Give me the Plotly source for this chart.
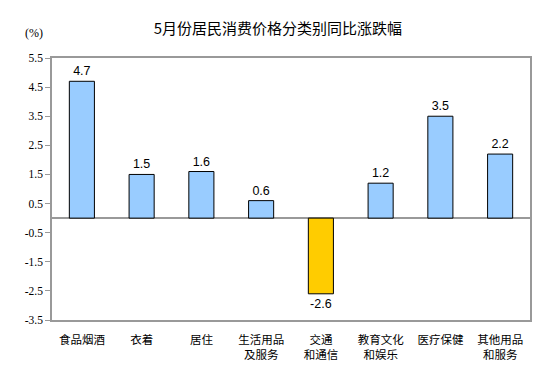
import plotly.graph_objects as go

categories = ["食品烟酒", "衣着", "居住", "生活用品<br>及服务", "交通<br>和通信", "教育文化<br>和娱乐", "医疗保健", "其他用品<br>和服务"]
values = [4.7, 1.5, 1.6, 0.6, -2.6, 1.2, 3.5, 2.2]
tick_vals = [-3.5, -2.5, -1.5, -0.5, 0.5, 1.5, 2.5, 3.5, 4.5, 5.5]
tick_text = ["-3.5", "-2.5", "-1.5", "-0.5", "0.5", "1.5", "2.5", "3.5", "4.5", "5.5"]

colors = ["#FFCC00" if v < 0 else "#99CCFF" for v in values]

fig = go.Figure(go.Bar(
    x=categories, y=values,
    marker=dict(color=colors, line=dict(color="black", width=1)),
    text=[f"{v:.1f}" for v in values],
    textposition="outside",
    textfont=dict(family="Liberation Sans, Arial", size=12.5, color="black"),
    cliponaxis=False,
))

fig.update_layout(
    width=553, height=384,
    margin=dict(l=44, r=31, t=50, b=72),
    paper_bgcolor="white", plot_bgcolor="white",
    bargap=0.58,
    showlegend=False,
    title=dict(text="5月份居民消费价格分类别同比涨跌幅", x=0.488, xanchor="center", y=0.945, yanchor="middle",
               font=dict(family="Noto Sans CJK SC", size=15, color="black")),
    annotations=[dict(text="(%)", xref="paper", yref="paper", x=-0.037, y=1.095, xanchor="center", yanchor="middle",
                      showarrow=False, font=dict(family="Liberation Serif", size=12, color="black"))],
)

fig.update_yaxes(
    range=[-3.5, 5.5], tickvals=tick_vals, ticktext=tick_text, automargin=False,
    showgrid=False, zeroline=True, zerolinecolor="#999999", zerolinewidth=1.5,
    showline=True, linecolor="#999999", linewidth=1.5, mirror=True,
    ticks="outside", ticklen=5, tickcolor="#999999",
    tickfont=dict(family="Liberation Serif", size=11.5, color="black"),
)
fig.update_xaxes(
    showline=True, linecolor="#999999", linewidth=1.5, mirror=True, automargin=False,
    ticks="", showgrid=False, ticklabelstandoff=8,
    tickfont=dict(family="Noto Sans CJK SC", size=11.5, color="black"),
)

fig.write_html("out.html")
